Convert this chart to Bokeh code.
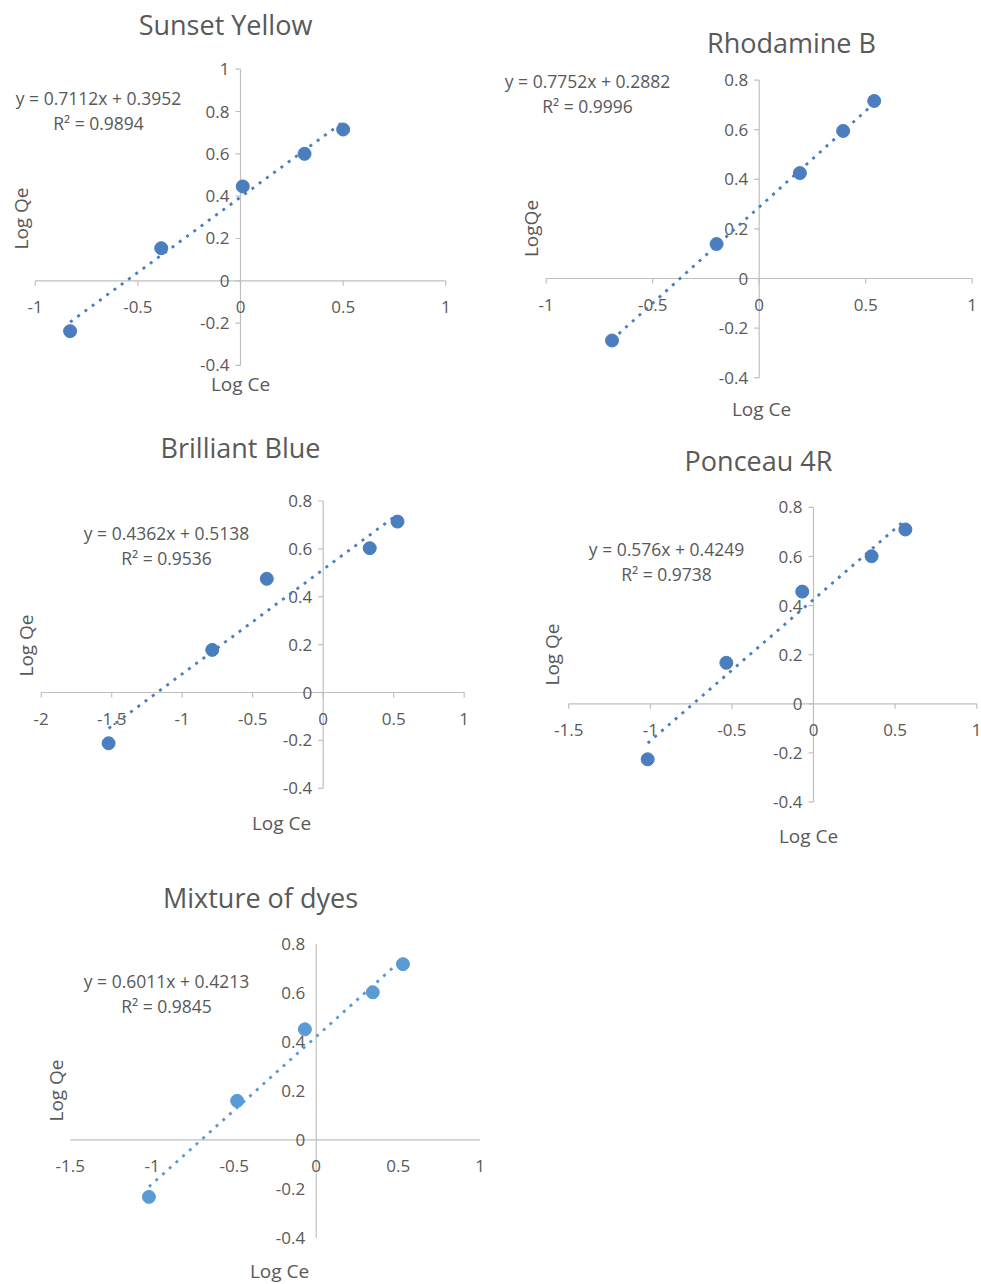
import math

from bokeh.core.properties import value
from bokeh.embed import file_html
from bokeh.layouts import column, row
from bokeh.models import Range1d
from bokeh.plotting import figure
from bokeh.resources import INLINE

FONT = "Open Sans"
TEXT = "#595959"
AXIS = "#BFBFBF"
BLUE = "#4A7EBF"
LIGHT_BLUE = "#5B9BD5"

# ---- Freundlich isotherm data (log Ce vs log Qe) ----
sunset_log_ce = [-0.830, -0.386, 0.011, 0.312, 0.500]
sunset_log_qe = [-0.238, 0.154, 0.446, 0.600, 0.715]
sunset_fit = (0.7112, 0.3952, 0.9894)

rhodamine_log_ce = [-0.691, -0.200, 0.191, 0.394, 0.540]
rhodamine_log_qe = [-0.250, 0.139, 0.425, 0.595, 0.716]
rhodamine_fit = (0.7752, 0.2882, 0.9996)

blue_log_ce = [-1.522, -0.787, -0.400, 0.330, 0.527]
blue_log_qe = [-0.212, 0.178, 0.475, 0.603, 0.714]
blue_fit = (0.4362, 0.5138, 0.9536)

ponceau_log_ce = [-1.016, -0.534, -0.069, 0.356, 0.563]
ponceau_log_qe = [-0.226, 0.167, 0.457, 0.601, 0.710]
ponceau_fit = (0.576, 0.4249, 0.9738)

mixture_log_ce = [-1.020, -0.482, -0.069, 0.345, 0.529]
mixture_log_qe = [-0.233, 0.159, 0.451, 0.602, 0.717]
mixture_fit = (0.6011, 0.4213, 0.9845)

# ---- tick values ----
x_ticks_1 = [-1, -0.5, 0, 0.5, 1]
y_ticks_1 = [-0.4, -0.2, 0, 0.2, 0.4, 0.6, 0.8, 1]
x_ticks_2 = [-1, -0.5, 0, 0.5, 1]
y_ticks_2 = [-0.4, -0.2, 0, 0.2, 0.4, 0.6, 0.8]
x_ticks_3 = [-2, -1.5, -1, -0.5, 0, 0.5, 1]
y_ticks_3 = [-0.4, -0.2, 0, 0.2, 0.4, 0.6, 0.8]
x_ticks_4 = [-1.5, -1, -0.5, 0, 0.5, 1]
y_ticks_4 = [-0.4, -0.2, 0, 0.2, 0.4, 0.6, 0.8]
x_ticks_5 = [-1.5, -1, -0.5, 0, 0.5, 1]
y_ticks_5 = [-0.4, -0.2, 0, 0.2, 0.4, 0.6, 0.8]


def tick_text(t):
    return f"{t:g}"


def panel(title, log_ce, log_qe, fit, x_ticks, y_ticks, ylabel, color,
          size, offset, origin, scale, title_at, xlabel_at, ylabel_at, eq_at,
          tick_marks=True):
    """One Excel-style scatter chart with axes crossing at the origin.

    size: panel width/height in px; offset: panel's top-left on the page;
    origin: page px of the data origin; scale: px per data unit (x, y).
    """
    width, height = size
    gx, gy = offset
    ox, oy = origin
    sx, sy = scale
    lx, ly = ox - gx, oy - gy

    p = figure(width=width, height=height,
               x_range=Range1d(-lx / sx, (width - lx) / sx),
               y_range=Range1d(-(height - ly) / sy, ly / sy),
               output_backend="svg", toolbar_location=None,
               x_axis_location=None, y_axis_location=None, min_border=0)
    p.xgrid.grid_line_color = None
    p.ygrid.grid_line_color = None
    p.outline_line_color = None
    p.background_fill_color = "white"
    p.border_fill_color = "white"

    def at(px, py):
        return (px - ox) / sx, (oy - py) / sy

    def label(px, py, txt, fsize, angle=0.0):
        x, y = at(px, py)
        p.text(x=[x], y=[y], text=[txt], angle=angle,
               text_font=value(FONT), text_font_size=value(fsize),
               text_color=TEXT, text_align="center", text_baseline="middle")

    # axes through the origin
    xmin, xmax = min(x_ticks), max(x_ticks)
    ymin, ymax = min(y_ticks), max(y_ticks)
    p.segment(x0=[xmin, 0], y0=[0, ymin], x1=[xmax, 0], y1=[0, ymax],
              line_color=AXIS, line_width=1.2)
    if tick_marks:
        tl = 5.0
        p.segment(x0=x_ticks, y0=[0] * len(x_ticks), x1=x_ticks,
                  y1=[-tl / sy] * len(x_ticks), line_color=AXIS, line_width=1.2)
        p.segment(x0=[0] * len(y_ticks), y0=y_ticks, x1=[-tl / sx] * len(y_ticks),
                  y1=y_ticks, line_color=AXIS, line_width=1.2)

    # tick labels
    p.text(x=x_ticks, y=[0] * len(x_ticks), text=[tick_text(t) for t in x_ticks],
           y_offset=26, text_font=value(FONT), text_font_size=value("17px"),
           text_color=TEXT, text_align="center", text_baseline="middle")
    p.text(x=[0] * len(y_ticks), y=y_ticks, text=[tick_text(t) for t in y_ticks],
           x_offset=-11, text_font=value(FONT), text_font_size=value("17px"),
           text_color=TEXT, text_align="right", text_baseline="middle")

    # linear trendline over the data span
    slope, intercept, r2 = fit
    tx = [min(log_ce), max(log_ce)]
    ty = [slope * v + intercept for v in tx]
    p.line(tx, ty, line_color=color, line_width=2.8, line_dash="3 6")

    p.scatter(log_ce, log_qe, size=13, fill_color=color, line_color=color)

    label(*title_at, title, "27px")
    label(*xlabel_at, "Log Ce", "19px")
    label(*ylabel_at, ylabel, "19px", angle=math.pi / 2)
    sign = "+" if intercept >= 0 else "-"
    label(eq_at[0], eq_at[1], f"y = {slope:g}x {sign} {abs(intercept):g}", "17.5px")
    label(eq_at[0], eq_at[1] + 25, f"R\u00b2 = {r2:g}", "17.5px")
    return p


p1 = panel("Sunset Yellow", sunset_log_ce, sunset_log_qe, sunset_fit,
           x_ticks_1, y_ticks_1, "Log Qe", BLUE,
           size=(490, 430), offset=(0, 0), origin=(240, 280.3), scale=(205.3, 211.6),
           title_at=(225, 24), xlabel_at=(240, 383), ylabel_at=(20, 218),
           eq_at=(98, 97))

p2 = panel("Rhodamine B", rhodamine_log_ce, rhodamine_log_qe, rhodamine_fit,
           x_ticks_2, y_ticks_2, "LogQe", BLUE,
           size=(491, 440), offset=(490, 0), origin=(758.7, 278), scale=(213, 248),
           title_at=(791, 42), xlabel_at=(761, 408), ylabel_at=(530, 228),
           eq_at=(587, 80))

p3 = panel("Brilliant Blue", blue_log_ce, blue_log_qe, blue_fit,
           x_ticks_3, y_ticks_3, "Log Qe", BLUE,
           size=(490, 430), offset=(0, 430), origin=(322.7, 692), scale=(141, 239.4),
           title_at=(240, 447), xlabel_at=(281, 822), ylabel_at=(25, 645),
           eq_at=(166, 532))

p4 = panel("Ponceau 4R", ponceau_log_ce, ponceau_log_qe, ponceau_fit,
           x_ticks_4, y_ticks_4, "Log Qe", BLUE,
           size=(491, 420), offset=(490, 440), origin=(813, 703.3), scale=(163.2, 245.5),
           title_at=(758, 460), xlabel_at=(808, 835), ylabel_at=(551, 654),
           eq_at=(666, 548))

p5 = panel("Mixture of dyes", mixture_log_ce, mixture_log_qe, mixture_fit,
           x_ticks_5, y_ticks_5, "Log Qe", LIGHT_BLUE,
           size=(490, 424), offset=(0, 860), origin=(315.7, 1139.3), scale=(164, 245),
           title_at=(260, 897), xlabel_at=(279, 1270), ylabel_at=(55, 1090),
           eq_at=(166, 980), tick_marks=False)

page = row(column(p1, p3, p5, spacing=0), column(p2, p4, spacing=0), spacing=0)

with open("out.html", "w") as fh:
    fh.write(file_html(page, INLINE))
